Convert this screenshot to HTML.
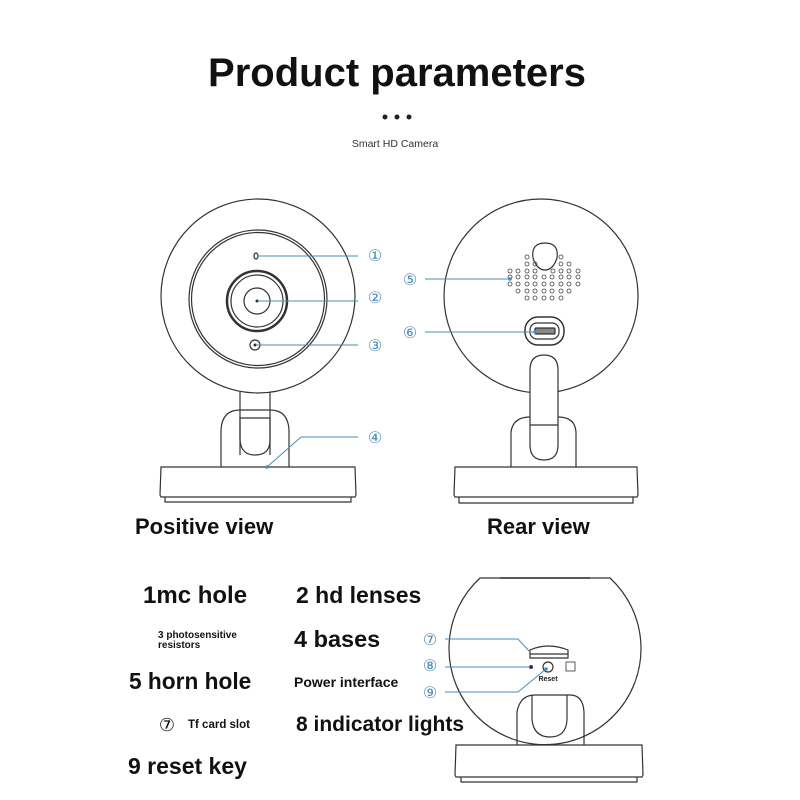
<!DOCTYPE html>
<html><head><meta charset="utf-8"><style>
html,body{margin:0;padding:0;background:#fff;}
svg{display:block;}
text{font-family:"Liberation Sans",sans-serif;}
</style></head><body>
<svg id="s" width="800" height="800" viewBox="0 0 800 800" xmlns="http://www.w3.org/2000/svg">
<rect width="800" height="800" fill="#fff"/>
<text x="397" y="86" font-size="40" font-weight="bold" text-anchor="middle" fill="#111">Product parameters</text>
<circle cx="385" cy="117" r="2.5" fill="#222"/><circle cx="397" cy="117" r="2.5" fill="#222"/><circle cx="409" cy="117" r="2.5" fill="#222"/>
<text x="395" y="147" font-size="10.5" text-anchor="middle" fill="#333">Smart HD Camera</text>

<g fill="none" stroke="#333" stroke-width="1.2">
<path d="M240 392 L240 455 M270 392 L270 455"/>
<path d="M221 467 L221 430 Q222 410 240 410 L270 410 Q288 410 289 430 L289 467"/>
<path d="M240 418 L240 440 Q241 455 255 455 Q270 455 270 440 L270 418 Z" />
<circle cx="258" cy="296" r="97" fill="#fff"/>
<circle cx="258" cy="299" r="69"/>
<circle cx="258" cy="299" r="66.5"/>
<circle cx="257" cy="301" r="30" stroke-width="2.5"/>
<circle cx="257" cy="301" r="26"/>
<circle cx="257" cy="301" r="13"/>
<ellipse cx="256" cy="256" rx="2" ry="3"/>
<circle cx="255" cy="345" r="5"/>
<path d="M161 467 L355 467 L356 495 L355 497 L161 497 L160 495 Z" fill="#fff"/>
<path d="M165 497 L165 502 L351 502 L351 497"/>
<path d="M511 467 L511 432 Q513 417 530 417 L558 417 Q575 417 576 432 L576 467"/>
<circle cx="541" cy="296" r="97" fill="#fff"/>
<path d="M530 445 L530 370 Q530 355 544 355 Q558 355 558 370 L558 445 Q558 460 544 460 Q530 460 530 445 Z" fill="#fff"/>
<line x1="530" y1="425" x2="558" y2="425"/>
<path d="M533 258 Q531 243 545 243 Q559 243 557 258 Q553 270 545 270 Q537 270 533 258 Z"/>
<rect x="525" y="317" width="39" height="28" rx="13" stroke-width="1.5"/>
<rect x="530" y="323" width="29" height="16" rx="7"/>
<rect x="535" y="328" width="20" height="6" rx="1" fill="#888"/>
<path d="M455 467 L637 467 L638 495 L637 497 L455 497 L454 495 Z" fill="#fff"/>
<path d="M459 497 L459 503 L633 503 L633 497"/>
<path d="M480 578 A96 96 0 1 0 610 578 Z" fill="#fff"/>
<line x1="500" y1="578" x2="590" y2="578" stroke-width="1.5"/>
<path d="M517 745 L517 712 Q520 695 535 695 L570 695 Q583 695 584 712 L584 745"/>
<path d="M532 695 L532 720 Q534 737 550 737 Q566 737 567 720 L567 695" />
<path d="M530 650 Q548 642 568 650 L568 658 L530 658 Z"/>
<line x1="530" y1="654" x2="568" y2="654"/>
<circle cx="548" cy="667" r="5"/>
<rect x="566" y="662" width="9" height="9" stroke-width="0.8"/>
<path d="M456 745 L642 745 L643 775 L642 777 L456 777 L455 775 Z" fill="#fff"/>
<path d="M461 777 L461 782 L637 782 L637 777"/>
</g>
<circle cx="531" cy="667" r="2" fill="#335"/>
<text x="548" y="681" font-size="7" font-weight="bold" text-anchor="middle" fill="#222">Reset</text>
<circle cx="257" cy="301" r="1.5" fill="#333"/><circle cx="255" cy="345" r="1.5" fill="#333"/>
<g id="dots" fill="none" stroke="#444" stroke-width="0.8"></g>

<g stroke="#4a8db5" stroke-width="1" fill="none">
<path d="M258 256 H358"/><path d="M258 301 H358"/><path d="M256 345 H358"/>
<path d="M267 467 L301 437 H358"/>
<path d="M425 279 H510"/><path d="M425 332 H535"/>
<path d="M445 639 H518 L530 652"/><path d="M445 667 H530"/><path d="M445 692 H518 L546 669"/>
</g>
<g fill="#4a8db5"><circle cx="267" cy="467" r="1.8"/><circle cx="510" cy="279" r="1.8"/><circle cx="535" cy="332" r="1.8"/><circle cx="546" cy="669" r="1.8"/></g>
<g font-size="16" fill="#4a8db5" text-anchor="middle" font-family="DejaVu Sans,sans-serif">
<text x="375" y="261">①</text><text x="375" y="303">②</text><text x="375" y="351">③</text><text x="375" y="443">④</text>
<text x="410" y="285">⑤</text><text x="410" y="338">⑥</text>
<text x="430" y="645">⑦</text><text x="430" y="671">⑧</text><text x="430" y="698">⑨</text>
</g>

<g font-weight="bold" fill="#111">
<text x="135" y="534" font-size="22">Positive view</text>
<text x="487" y="534" font-size="22">Rear view</text>
<text x="143" y="603" font-size="24">1mc hole</text>
<text x="296" y="603" font-size="23">2 hd lenses</text>
<text x="158" y="638" font-size="10">3 photosensitive</text>
<text x="158" y="648" font-size="10">resistors</text>
<text x="294" y="647" font-size="23.5">4 bases</text>
<text x="129" y="689" font-size="22.7">5 horn hole</text>
<text x="294" y="687" font-size="14">Power interface</text>
<text x="188" y="728" font-size="11.5">Tf card slot</text>
<text x="296" y="731" font-size="21">8 indicator lights</text>
<text x="128" y="774" font-size="23">9 reset key</text>
</g>
<text x="167" y="731" font-size="18" text-anchor="middle" fill="#111" font-family="DejaVu Sans,sans-serif">⑦</text>
</svg>
<script>
var g=document.getElementById('dots'),ns='http://www.w3.org/2000/svg';
var rows=[[257,[527,561]],[264,[527,535,561,569]],[271,[510,518,527,535,553,561,569,578]],[277,[510,518,527,535,544,552,561,569,578]],[284,[510,518,527,535,544,552,561,569,578]],[291,[518,527,535,544,552,561,569]],[298,[527,535,544,552,561]]];
rows.forEach(function(r){r[1].forEach(function(x){var c=document.createElementNS(ns,'circle');c.setAttribute('cx',x);c.setAttribute('cy',r[0]);c.setAttribute('r',2);g.appendChild(c);});});
</script>
</body></html>
